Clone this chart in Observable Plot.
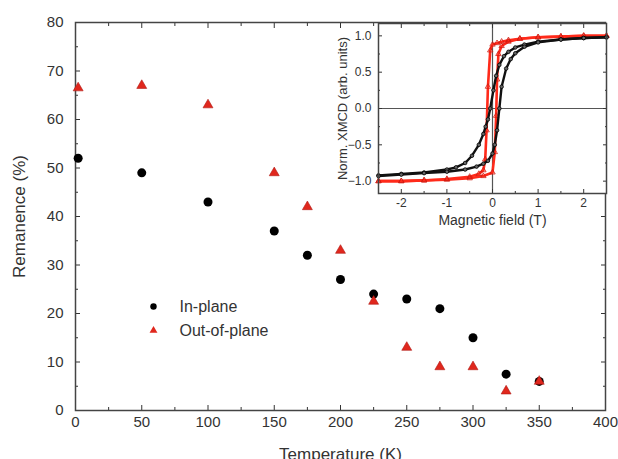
<!DOCTYPE html>
<html><head><meta charset="utf-8">
<script src="https://cdn.jsdelivr.net/npm/d3@7"></script>
<script src="https://cdn.jsdelivr.net/npm/@observablehq/plot@0.6"></script>
<style>
body{margin:0;background:#fff;}
#wrap{position:relative;width:618px;height:459px;overflow:hidden;background:#fff;}
#wrap svg{position:absolute;left:0;top:0;}
</style></head><body><div id="wrap"></div>
<script>
// Main chart data
const temperatures = [2, 50, 100, 150, 175, 200, 225, 250, 275, 300, 325, 350];
const inPlane      = [52, 49, 43, 37, 32, 27, 24, 23, 21, 15, 7.5, 6];
const outOfPlane   = [66.5, 67, 63, 49, 42, 33, 22.5, 13, 9, 9, 4, 6];
const xMajor = [0, 50, 100, 150, 200, 250, 300, 350, 400];
const xMinor = [25, 75, 125, 175, 225, 275, 325, 375];
const yMajor = [0, 10, 20, 30, 40, 50, 60, 70, 80];
const yMinor = [5, 15, 25, 35, 45, 55, 65, 75];
const legendLabels = ["In-plane", "Out-of-plane"];

// Inset data (hysteresis loops)
const hBlackDown = [2.5, 2.0, 1.5, 1.0, 0.7, 0.5, 0.35, 0.25, 0.15, 0.08, 0.02, -0.05, -0.1, -0.15, -0.2, -0.3, -0.45, -0.6, -0.8, -1.0, -1.5, -2.0, -2.5];
const mBlackDown = [0.98, 0.97, 0.95, 0.92, 0.88, 0.84, 0.78, 0.72, 0.6, 0.45, 0.25, 0.0, -0.15, -0.25, -0.35, -0.5, -0.65, -0.75, -0.81, -0.84, -0.88, -0.9, -0.92];
const hBlackUp = [-2.5, -2.0, -1.5, -1.0, -0.6, -0.35, -0.2, -0.1, 0.0, 0.05, 0.1, 0.15, 0.2, 0.3, 0.4, 0.5, 0.7, 1.0, 1.5, 2.0, 2.5];
const mBlackUp = [-0.93, -0.91, -0.89, -0.87, -0.84, -0.8, -0.76, -0.72, -0.62, -0.5, -0.3, 0.0, 0.3, 0.55, 0.68, 0.76, 0.85, 0.91, 0.95, 0.97, 0.98];
const hRedDown = [2.5, 2.0, 1.5, 1.0, 0.6, 0.35, 0.2, 0.1, 0.0, -0.05, -0.1, -0.13, -0.16, -0.2, -0.3, -0.5, -1.0, -1.5, -2.0, -2.5];
const mRedDown = [1.0, 1.0, 0.99, 0.98, 0.96, 0.94, 0.92, 0.9, 0.88, 0.8, 0.3, -0.3, -0.7, -0.85, -0.9, -0.94, -0.97, -0.99, -1.0, -1.0];
const hRedUp = [-2.5, -2.0, -1.5, -1.0, -0.5, -0.2, 0.0, 0.05, 0.08, 0.1, 0.13, 0.2, 0.35, 0.6, 1.0, 1.5, 2.0, 2.5];
const mRedUp = [-1.0, -1.0, -0.99, -0.98, -0.96, -0.93, -0.88, -0.6, -0.1, 0.4, 0.75, 0.86, 0.92, 0.96, 0.98, 0.99, 1.0, 1.0];
const hMajor = [-2, -1, 0, 1, 2];
const hMinor = [-2.5, -1.5, -0.5, 0.5, 1.5, 2.5];
const mMajor = [-1.0, -0.5, 0.0, 0.5, 1.0];
const mMinor = [-0.75, -0.25, 0.25, 0.75];

const font = "'Liberation Sans', Arial, sans-serif";
const RED = "#e0271d";
const rows = temperatures.map((t, i) => ({t, ip: inPlane[i], op: outOfPlane[i]}));
const legend = legendLabels.map((label, i) => ({label, i}));
const blank = () => "";

const main = Plot.plot({
  width: 618, height: 459,
  marginLeft: 75, marginRight: 13, marginTop: 22, marginBottom: 49,
  x: {domain: [0, 400], label: null},
  y: {domain: [0, 80], label: null},
  style: {fontFamily: font, fontSize: "15px", color: "#333", background: "transparent", overflow: "visible"},
  marks: [
    Plot.axisX({ticks: xMajor, tickSize: 0, tickPadding: 6, label: null, tickFormat: d => d}),
    Plot.axisX({ticks: xMajor, tickSize: -5, tickFormat: blank, label: null}),
    Plot.axisX({ticks: xMinor, tickSize: -3, tickFormat: blank, label: null}),
    Plot.axisX({anchor: "top", ticks: xMajor, tickSize: -5, tickFormat: blank, label: null}),
    Plot.axisX({anchor: "top", ticks: xMinor, tickSize: -3, tickFormat: blank, label: null}),
    Plot.axisY({ticks: yMajor, tickSize: 0, tickPadding: 12, label: null, tickFormat: d => d}),
    Plot.axisY({ticks: yMajor, tickSize: -5, tickFormat: blank, label: null}),
    Plot.axisY({ticks: yMinor, tickSize: -3, tickFormat: blank, label: null}),
    Plot.axisY({anchor: "right", ticks: yMajor, tickSize: -5, tickFormat: blank, label: null}),
    Plot.axisY({anchor: "right", ticks: yMinor, tickSize: -3, tickFormat: blank, label: null}),
    Plot.frame({stroke: "#444", strokeWidth: 1.5}),
    Plot.dot(rows, {x: "t", y: "ip", r: 4.5, fill: "#000", symbol: "circle"}),
    Plot.dot(rows, {x: "t", y: "op", r: 3.7, fill: RED, stroke: "#b01a14", strokeWidth: 0.6, symbol: "triangle"}),
    Plot.text(["Temperature (K)"], {frameAnchor: "bottom", dy: 44, lineAnchor: "middle", textAnchor: "middle", fontSize: 17, fill: "#333"}),
    Plot.text(["Remanence (%)"], {frameAnchor: "left", dx: -56, rotate: -90, lineAnchor: "middle", textAnchor: "middle", fontSize: 17, fill: "#333"})
  ]
});
document.getElementById("wrap").appendChild(main);

// Legend as an overlay plot sharing the frame
const leg = Plot.plot({
  width: 618, height: 459,
  marginLeft: 75, marginRight: 13, marginTop: 22, marginBottom: 49,
  x: {axis: null}, y: {axis: null, type: "point", padding: 0, domain: legendLabels, range: [306, 330]},
  style: {fontFamily: font, color: "#333", background: "transparent", overflow: "visible"},
  marks: [
    Plot.dot(legend, {y: "label", frameAnchor: "left", dx: 78, r: d => d.i === 0 ? 4.5 : 3.7,
      symbol: d => d.i === 0 ? "circle" : "triangle", fill: d => d.i === 0 ? "#000" : RED}),
    Plot.text(legend, {y: "label", text: "label", frameAnchor: "left", dx: 104, textAnchor: "start", fontSize: 16, fill: "#333"})
  ]
});
document.getElementById("wrap").appendChild(leg);

const mk = (hs, ms) => hs.map((h, i) => ({h, m: ms[i]}));
const bDown = mk(hBlackDown, mBlackDown), bUp = mk(hBlackUp, mBlackUp);
const rDown = mk(hRedDown, mRedDown), rUp = mk(hRedUp, mRedUp);

const inset = Plot.plot({
  width: 618, height: 459,
  marginLeft: 378, marginRight: 12, marginTop: 23, marginBottom: 266,
  x: {domain: [-2.5, 2.5], label: null},
  y: {domain: [-1.17, 1.17], label: null},
  style: {fontFamily: font, fontSize: "12px", color: "#333", background: "transparent", overflow: "visible"},
  marks: [
    Plot.frame({fill: "white"}),
    Plot.ruleY([0], {stroke: "#555", strokeWidth: 1.2}),
    Plot.ruleX([0], {stroke: "#555", strokeWidth: 1.2}),
    Plot.axisX({ticks: hMajor, tickSize: 0, tickPadding: 5, label: null, tickFormat: d => d}),
    Plot.axisX({ticks: hMajor, tickSize: -4, tickFormat: blank, label: null}),
    Plot.axisX({ticks: hMinor, tickSize: -2, tickFormat: blank, label: null}),
    Plot.axisX({anchor: "top", ticks: hMajor, tickSize: -4, tickFormat: blank, label: null}),
    Plot.axisX({anchor: "top", ticks: hMinor, tickSize: -2, tickFormat: blank, label: null}),
    Plot.axisY({ticks: mMajor, tickSize: 0, tickPadding: 7, label: null, tickFormat: d3.format(".1f")}),
    Plot.axisY({ticks: mMajor, tickSize: -4, tickFormat: blank, label: null}),
    Plot.axisY({ticks: mMinor, tickSize: -2, tickFormat: blank, label: null}),
    Plot.axisY({anchor: "right", ticks: mMajor, tickSize: -4, tickFormat: blank, label: null}),
    Plot.axisY({anchor: "right", ticks: mMinor, tickSize: -2, tickFormat: blank, label: null}),
    Plot.line(rDown, {x: "h", y: "m", stroke: "#ff2a1a", strokeWidth: 2.6}),
    Plot.line(rUp, {x: "h", y: "m", stroke: "#ff2a1a", strokeWidth: 2.6}),
    Plot.dot(rDown, {x: "h", y: "m", r: 2, stroke: "#d01a10", strokeWidth: 0.8, symbol: "triangle"}),
    Plot.dot(rUp, {x: "h", y: "m", r: 2, stroke: "#d01a10", strokeWidth: 0.8, symbol: "triangle"}),
    Plot.line(bDown, {x: "h", y: "m", stroke: "#111", strokeWidth: 2.4}),
    Plot.line(bUp, {x: "h", y: "m", stroke: "#111", strokeWidth: 2.4}),
    Plot.dot(bDown, {x: "h", y: "m", r: 1.8, stroke: "#000", fill: "#666", strokeWidth: 0.8}),
    Plot.dot(bUp, {x: "h", y: "m", r: 1.8, stroke: "#000", fill: "#666", strokeWidth: 0.8}),
    Plot.frame({stroke: "#444", strokeWidth: 1.5}),
    Plot.text(["Magnetic field (T)"], {frameAnchor: "bottom", dy: 27, lineAnchor: "middle", textAnchor: "middle", fontSize: 14, fill: "#333"}),
    Plot.text(["Norm. XMCD (arb. units)"], {frameAnchor: "left", dx: -36, rotate: -90, lineAnchor: "middle", textAnchor: "middle", fontSize: 13, fill: "#333"})
  ]
});
document.getElementById("wrap").appendChild(inset);
</script>
</body></html>
